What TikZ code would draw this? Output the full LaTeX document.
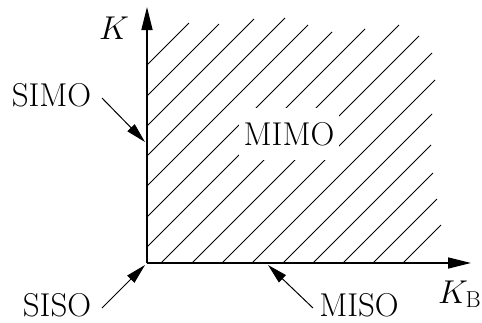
\RequirePackage{fix-cm}
\documentclass[tikz,border=0pt]{standalone}
\usetikzlibrary{arrows.meta}
\begin{document}
\begin{tikzpicture}[x=1pt,y=-1pt,
  axisline/.style={line width=1.6pt,-{Triangle[length=23pt,width=11pt]}},
  hatchline/.style={line width=1pt},
  lblarrow/.style={line width=1pt,-{Triangle[length=20pt,width=10pt]}},
  lbl/.style={inner sep=0pt,font=\fontsize{33}{40}\selectfont}]
\useasboundingbox (0,0) rectangle (482,322);
% hatching
\foreach \c/\xu in {212/189,243/219,273/254,303/285,333/308,364/332,394/365,
                    424/399,455/419,485/432,515/435,546/432,576/431,606/433,636/437,666/441}{
  \ifnum\c<410
    \draw[hatchline] (147,\c-147) -- (\xu,\c-\xu);
  \else
    \draw[hatchline] (\c-263,263) -- (\xu,\c-\xu);
  \fi
}
\node[lbl,fill=white,minimum width=100pt,minimum height=52pt] (MIMO) at (289,134) {MIMO};
% axes
\coordinate (O) at (147,263);
\coordinate (ytip) at (147,7);
\coordinate (xtip) at (471,263);
\draw[axisline] (O) -- (ytip);
\draw[axisline] (O) -- (xtip);
\node[lbl] (K) at (114,28) {$K$};
\node[lbl,anchor=base west] (KB) at (438,303) {$K_{\mathrm{B}}$};
% labels
\node[lbl] (SIMO) at (51.5,95) {SIMO};
\node[lbl,anchor=base] (SISO) at (57,316.5) {SISO};
\node[lbl,anchor=base] (MISO) at (359,316.5) {MISO};
\coordinate (simoS) at (102,98);
\coordinate (simoT) at (145,142);
\coordinate (sisoS) at (102,308);
\coordinate (sisoT) at (145,265);
\coordinate (misoS) at (313,308);
\coordinate (misoT) at (268,265);
\draw[lblarrow] (simoS) -- (simoT);
\draw[lblarrow] (sisoS) -- (sisoT);
\draw[lblarrow] (misoS) -- (misoT);
\end{tikzpicture}
\end{document}
